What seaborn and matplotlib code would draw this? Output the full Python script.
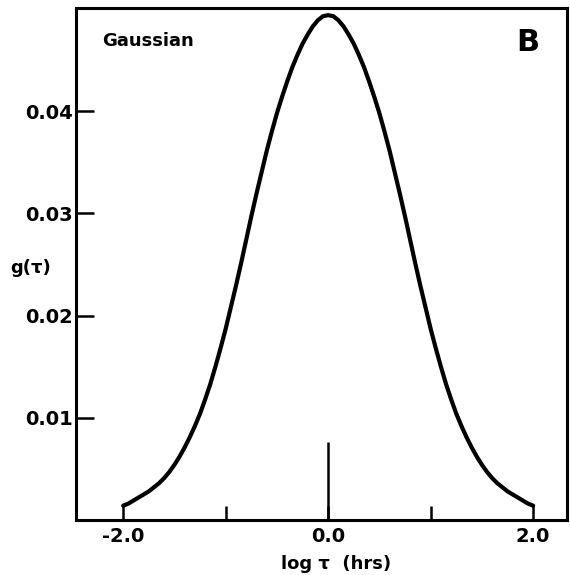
import matplotlib
matplotlib.use("Agg")
import matplotlib.pyplot as plt
import seaborn as sns
import pandas as pd
from matplotlib.ticker import FixedLocator, FixedFormatter

# Distribution of relaxation times on a log scale (log tau in hours)
log_tau = [-2.00, -1.95, -1.90, -1.85, -1.80, -1.75, -1.70, -1.65, -1.60, -1.55,
           -1.50, -1.45, -1.40, -1.35, -1.30, -1.25, -1.20, -1.15, -1.10, -1.05,
           -1.00, -0.95, -0.90, -0.85, -0.80, -0.75, -0.70, -0.65, -0.60, -0.55,
           -0.50, -0.45, -0.40, -0.35, -0.30, -0.25, -0.20, -0.15, -0.10, -0.05,
           0.00, 0.05, 0.10, 0.15, 0.20, 0.25, 0.30, 0.35, 0.40, 0.45,
           0.50, 0.55, 0.60, 0.65, 0.70, 0.75, 0.80, 0.85, 0.90, 0.95,
           1.00, 1.05, 1.10, 1.15, 1.20, 1.25, 1.30, 1.35, 1.40, 1.45,
           1.50, 1.55, 1.60, 1.65, 1.70, 1.75, 1.80, 1.85, 1.90, 1.95, 2.00]
g_tau = [0.0014, 0.0016, 0.0019, 0.0022, 0.0025, 0.0028, 0.0032, 0.0036, 0.0041, 0.0047,
         0.0054, 0.0062, 0.0071, 0.0081, 0.0092, 0.0104, 0.0118, 0.0133, 0.0150, 0.0168,
         0.0187, 0.0208, 0.0229, 0.0251, 0.0274, 0.0297, 0.0319, 0.0340, 0.0361, 0.0380,
         0.0398, 0.0414, 0.0429, 0.0443, 0.0455, 0.0466, 0.0475, 0.0483, 0.0489, 0.0493,
         0.0494, 0.0493, 0.0489, 0.0483, 0.0475, 0.0466, 0.0455, 0.0443, 0.0429, 0.0414,
         0.0398, 0.0380, 0.0361, 0.0340, 0.0319, 0.0297, 0.0274, 0.0251, 0.0229, 0.0208,
         0.0187, 0.0168, 0.0150, 0.0133, 0.0118, 0.0104, 0.0092, 0.0081, 0.0071, 0.0062,
         0.0054, 0.0047, 0.0041, 0.0036, 0.0032, 0.0028, 0.0025, 0.0022, 0.0019, 0.0016, 0.0014]

# Mean of the distribution, marked by a short vertical line
mean_log_tau = 0.0
mean_marker_height = 0.0076

x_major = [-2.0, 0.0, 2.0]
x_major_labels = ["-2.0", "0.0", "2.0"]
x_minor = [-1.0, 1.0]
y_ticks = [0.01, 0.02, 0.03, 0.04]
y_tick_labels = ["0.01", "0.02", "0.03", "0.04"]

sns.set_style("white")
plt.rcParams["font.family"] = ["DejaVu Sans"]
plt.rcParams["axes.unicode_minus"] = False
plt.rcParams["text.color"] = "black"
plt.rcParams["axes.labelcolor"] = "black"
plt.rcParams["xtick.color"] = "black"
plt.rcParams["ytick.color"] = "black"

fig = plt.figure(figsize=(5.7, 5.75), dpi=100)
ax = fig.add_axes([76 / 570, 55 / 575, 491 / 570, 512 / 575])

df = pd.DataFrame({"log_tau": log_tau, "g": g_tau})
sns.lineplot(data=df, x="log_tau", y="g", ax=ax, color="black",
             linewidth=3.0, sort=False, estimator=None,
             solid_joinstyle="round", solid_capstyle="round")

ax.vlines(mean_log_tau, 0, mean_marker_height, color="black", linewidth=1.8)

ax.set_xlim(-2.46, 2.33)
ax.set_ylim(0, 0.0501)

ax.xaxis.set_major_locator(FixedLocator(x_major))
ax.xaxis.set_major_formatter(FixedFormatter(x_major_labels))
ax.xaxis.set_minor_locator(FixedLocator(x_minor))
ax.yaxis.set_major_locator(FixedLocator(y_ticks))
ax.yaxis.set_major_formatter(FixedFormatter(y_tick_labels))

ax.tick_params(axis="x", which="both", direction="in", length=10, width=1.8,
               color="black", labelcolor="black", pad=5, labelsize=14,
               bottom=True, top=False)
ax.tick_params(axis="y", which="major", direction="in", length=13, width=1.8,
               color="black", labelcolor="black", pad=2, labelsize=14,
               left=True, right=False)
for lab in ax.get_xticklabels() + ax.get_yticklabels():
    lab.set_fontweight("bold")

for side in ["left", "right", "top", "bottom"]:
    ax.spines[side].set_visible(True)
    ax.spines[side].set_color("black")
    ax.spines[side].set_linewidth(2.2)

ax.set_xlabel("log τ  (hrs)", fontsize=13, fontweight="bold", color="black")
ax.xaxis.set_label_coords(0.53, -0.068)
ax.xaxis.label.set_va("top")

ax.set_ylabel("g(τ)", fontsize=13, fontweight="bold", rotation=0, color="black")
ax.yaxis.set_label_coords(-0.092, 0.492)
ax.yaxis.label.set_va("center")
ax.yaxis.label.set_ha("center")

ax.text(0.053, 0.936, "Gaussian", transform=ax.transAxes, fontsize=13,
        fontweight="bold", ha="left", va="center", color="black")
ax.text(0.921, 0.932, "B", transform=ax.transAxes, fontsize=22,
        fontweight="bold", ha="center", va="center", color="black")

fig.savefig("out.png", dpi=100, facecolor="white")
